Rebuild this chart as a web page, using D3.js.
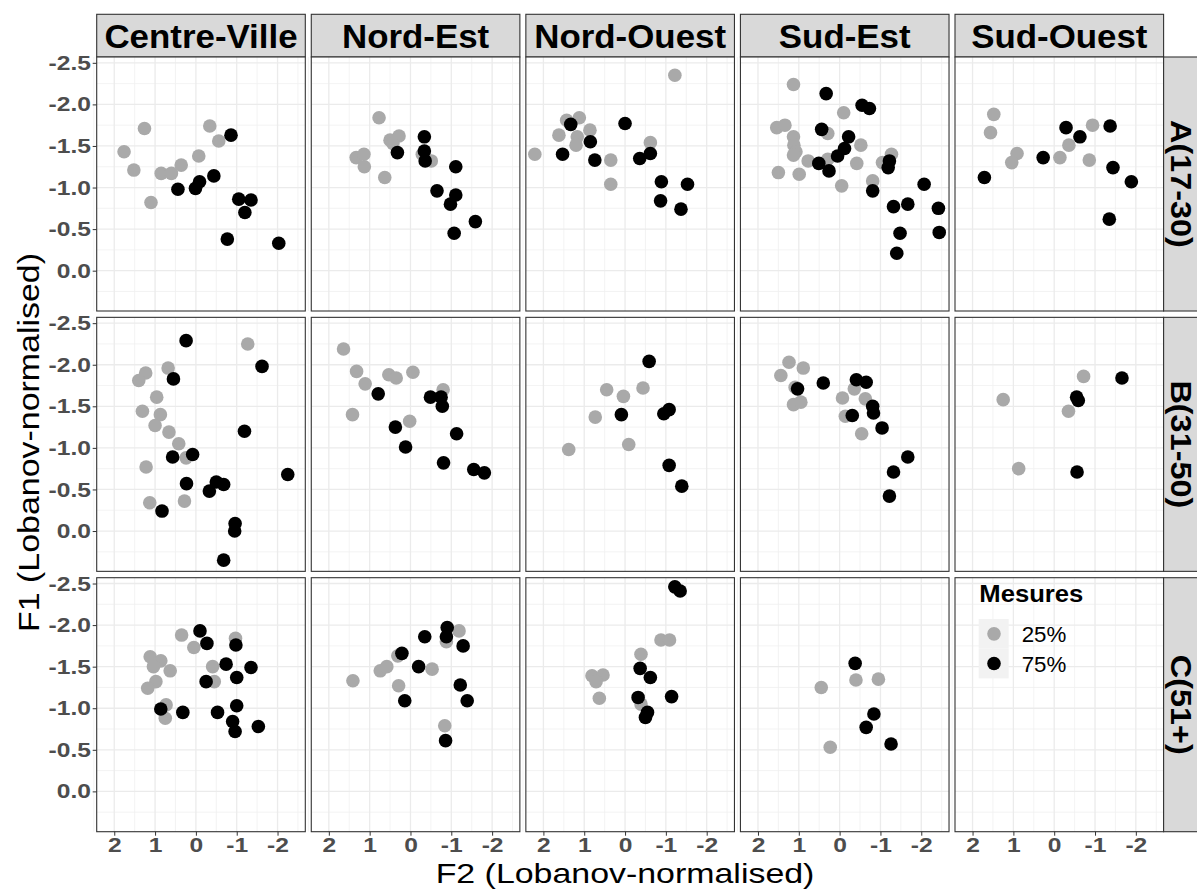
<!DOCTYPE html>
<html><head><meta charset="utf-8">
<script src="https://cdn.jsdelivr.net/npm/d3@7"></script>
<style>body{margin:0;background:#fff}svg{display:block;font-family:"Liberation Sans",Arial,sans-serif}</style>
</head><body><svg id="chart" width="1197" height="889"></svg>
<script>
const regions = ["Centre-Ville","Nord-Est","Nord-Ouest","Sud-Est","Sud-Ouest"];
const ageGroups = ["A(17-30)","B(31-50)","C(51+)"];
const ageKeys = ["A","B","C"];
const measures = ["25%","75%"];
const measureColors = ["#A9A9A9","#000000"];
const xTicks = [2,1,0,-1,-2];
const yTicks = [-2.5,-2.0,-1.5,-1.0,-0.5,0.0];
const xTitle = "F2 (Lobanov-normalised)";
const yTitle = "F1 (Lobanov-normalised)";
const legendTitle = "Mesures";

// [age, measure, F2, F1]
const centreVille = [
 ["A","25%",1.76,-1.43],["A","25%",1.26,-1.71],["A","25%",1.52,-1.21],["A","25%",1.10,-0.82],["A","25%",0.85,-1.17],
 ["A","25%",0.60,-1.17],["A","25%",0.36,-1.27],["A","25%",-0.07,-1.38],["A","25%",-0.34,-1.74],["A","25%",-0.56,-1.56],
 ["A","75%",-0.86,-1.63],["A","75%",0.44,-0.98],["A","75%",0.01,-0.99],["A","75%",-0.09,-1.07],["A","75%",-0.44,-1.14],
 ["A","75%",-1.05,-0.86],["A","75%",-1.35,-0.85],["A","75%",-1.20,-0.70],["A","75%",-0.77,-0.38],["A","75%",-2.03,-0.33],
 ["B","25%",-1.27,-2.25],["B","25%",0.68,-1.96],["B","25%",1.23,-1.90],["B","25%",1.40,-1.81],["B","25%",0.96,-1.61],
 ["B","25%",1.31,-1.44],["B","25%",0.87,-1.40],["B","25%",1.00,-1.27],["B","25%",0.66,-1.19],["B","25%",0.42,-1.05],
 ["B","25%",0.24,-0.88],["B","25%",1.22,-0.77],["B","25%",1.13,-0.34],["B","25%",0.28,-0.36],
 ["B","75%",0.24,-2.29],["B","75%",0.55,-1.83],["B","75%",-1.62,-1.98],["B","75%",-1.19,-1.20],["B","75%",0.57,-0.89],
 ["B","75%",0.08,-0.92],["B","75%",-2.25,-0.68],["B","75%",0.23,-0.57],["B","75%",-0.50,-0.59],["B","75%",-0.33,-0.48],
 ["B","75%",-0.68,-0.56],["B","75%",0.83,-0.24],["B","75%",-0.96,-0.09],["B","75%",-0.95,0.00],["B","75%",-0.68,0.35],
 ["C","25%",0.35,-1.88],["C","25%",0.05,-1.73],["C","25%",-0.97,-1.84],["C","25%",1.12,-1.62],["C","25%",0.86,-1.57],
 ["C","25%",1.04,-1.50],["C","25%",0.63,-1.45],["C","25%",0.98,-1.32],["C","25%",1.18,-1.24],["C","25%",-0.41,-1.50],
 ["C","25%",-0.45,-1.32],["C","25%",0.73,-1.04],["C","25%",0.75,-0.88],
 ["C","75%",-0.10,-1.93],["C","75%",-0.27,-1.78],["C","75%",-0.98,-1.76],["C","75%",-0.74,-1.53],["C","75%",-1.35,-1.49],
 ["C","75%",-1.00,-1.37],["C","75%",-0.25,-1.32],["C","75%",0.86,-0.99],["C","75%",0.32,-0.95],["C","75%",-0.53,-0.95],
 ["C","75%",-1.00,-1.03],["C","75%",-0.90,-0.84],["C","75%",-0.96,-0.72],["C","75%",-1.53,-0.78]
];
const nordEst = [
 ["A","25%",0.77,-1.84],["A","25%",1.33,-1.36],["A","25%",1.14,-1.40],["A","25%",1.13,-1.25],["A","25%",0.63,-1.12],
 ["A","25%",0.50,-1.57],["A","25%",0.28,-1.62],["A","25%",0.43,-1.53],["A","25%",-0.51,-1.32],["A","25%",-0.29,-1.40],
 ["A","75%",0.32,-1.42],["A","75%",-0.34,-1.61],["A","75%",-0.34,-1.44],["A","75%",-0.36,-1.32],["A","75%",-1.11,-1.25],
 ["A","75%",-0.65,-0.96],["A","75%",-1.11,-0.91],["A","75%",-0.98,-0.80],["A","75%",-1.59,-0.59],["A","75%",-1.07,-0.45],
 ["B","25%",1.64,-2.19],["B","25%",1.32,-1.92],["B","25%",1.11,-1.77],["B","25%",0.53,-1.88],["B","25%",0.35,-1.84],
 ["B","25%",-0.06,-1.91],["B","25%",1.42,-1.40],["B","25%",0.02,-1.32],["B","25%",-0.80,-1.70],
 ["B","75%",0.79,-1.65],["B","75%",-0.49,-1.61],["B","75%",-0.75,-1.61],["B","75%",-0.78,-1.50],["B","75%",0.37,-1.25],
 ["B","75%",0.12,-1.01],["B","75%",-1.13,-1.17],["B","75%",-0.81,-0.82],["B","75%",-1.55,-0.74],["B","75%",-1.81,-0.70],
 ["C","25%",1.41,-1.33],["C","25%",0.74,-1.45],["C","25%",0.58,-1.50],["C","25%",0.31,-1.63],["C","25%",0.29,-1.27],
 ["C","25%",-0.53,-1.47],["C","25%",-1.19,-1.93],["C","25%",-0.88,-1.80],["C","25%",-0.84,-0.79],
 ["C","75%",-0.35,-1.86],["C","75%",-0.90,-1.97],["C","75%",-0.88,-1.86],["C","75%",-1.29,-1.75],["C","75%",0.21,-1.66],
 ["C","75%",-0.20,-1.50],["C","75%",-1.22,-1.28],["C","75%",-1.39,-1.09],["C","75%",0.14,-1.09],["C","75%",-0.86,-0.61]
];
const nordOuest = [
 ["A","25%",-1.22,-2.35],["A","25%",2.21,-1.40],["A","25%",1.62,-1.63],["A","25%",1.43,-1.81],["A","25%",1.12,-1.84],
 ["A","25%",0.86,-1.69],["A","25%",1.17,-1.61],["A","25%",1.20,-1.51],["A","25%",0.35,-1.33],["A","25%",0.35,-1.04],
 ["A","25%",-0.62,-1.54],
 ["A","75%",1.33,-1.76],["A","75%",1.53,-1.40],["A","75%",0.85,-1.55],["A","75%",0.74,-1.33],["A","75%",0.00,-1.77],
 ["A","75%",-0.36,-1.35],["A","75%",-0.62,-1.41],["A","75%",-0.89,-1.07],["A","75%",-1.53,-1.04],["A","75%",-0.87,-0.84],
 ["A","75%",-1.37,-0.74],
 ["B","25%",0.45,-1.70],["B","25%",0.04,-1.62],["B","25%",-0.44,-1.72],["B","25%",0.73,-1.37],["B","25%",-0.09,-1.04],
 ["B","25%",1.38,-0.98],
 ["B","75%",-0.59,-2.04],["B","75%",0.09,-1.40],["B","75%",-0.95,-1.41],["B","75%",-1.08,-1.46],["B","75%",-1.08,-0.79],
 ["B","75%",-1.39,-0.54],
 ["C","25%",-0.88,-1.82],["C","25%",-1.09,-1.82],["C","25%",-0.39,-1.65],["C","25%",0.81,-1.39],["C","25%",0.54,-1.40],
 ["C","25%",0.71,-1.32],["C","25%",0.63,-1.12],["C","25%",-0.39,-1.05],
 ["C","75%",-1.22,-2.46],["C","75%",-1.35,-2.41],["C","75%",-0.37,-1.48],["C","75%",-0.62,-1.37],["C","75%",-0.32,-1.13],
 ["C","75%",-1.14,-1.14],["C","75%",-0.55,-0.95],["C","75%",-0.50,-0.89]
];
const sudEst = [
 ["A","25%",1.13,-2.24],["A","25%",1.54,-1.72],["A","25%",1.34,-1.75],["A","25%",1.13,-1.61],["A","25%",1.12,-1.51],
 ["A","25%",1.07,-1.43],["A","25%",1.13,-1.39],["A","25%",1.50,-1.18],["A","25%",0.99,-1.16],["A","25%",0.77,-1.32],
 ["A","25%",0.29,-1.65],["A","25%",-0.10,-1.90],["A","25%",0.29,-1.34],["A","25%",-0.05,-1.02],["A","25%",-0.42,-1.29],
 ["A","25%",-0.52,-1.51],["A","25%",-0.81,-1.08],["A","25%",-1.05,-1.30],["A","25%",-1.27,-1.40],
 ["A","75%",0.33,-2.13],["A","75%",0.44,-1.70],["A","75%",-0.55,-1.99],["A","75%",-0.73,-1.95],["A","75%",-0.22,-1.61],
 ["A","75%",-0.12,-1.47],["A","75%",0.05,-1.38],["A","75%",0.51,-1.29],["A","75%",0.26,-1.20],["A","75%",-1.22,-1.32],
 ["A","75%",-1.19,-1.24],["A","75%",-0.81,-0.96],["A","75%",-2.07,-1.04],["A","75%",-1.32,-0.77],["A","75%",-1.67,-0.80],
 ["A","75%",-2.42,-0.75],["A","75%",-2.44,-0.46],["A","75%",-1.48,-0.45],["A","75%",-1.40,-0.21],
 ["B","25%",1.24,-2.03],["B","25%",0.89,-1.96],["B","25%",1.44,-1.87],["B","25%",1.09,-1.73],["B","25%",1.13,-1.52],
 ["B","25%",0.95,-1.55],["B","25%",-0.07,-1.60],["B","25%",-0.36,-1.71],["B","25%",-0.63,-1.59],["B","25%",-0.14,-1.38],
 ["B","25%",-0.54,-1.17],
 ["B","75%",1.03,-1.71],["B","75%",0.40,-1.78],["B","75%",-0.41,-1.82],["B","75%",-0.65,-1.79],["B","75%",-0.81,-1.50],
 ["B","75%",-0.83,-1.42],["B","75%",-0.31,-1.39],["B","75%",-1.04,-1.24],["B","75%",-1.67,-0.89],["B","75%",-1.32,-0.71],
 ["B","75%",-1.22,-0.42],
 ["C","25%",0.45,-1.25],["C","25%",-0.40,-1.34],["C","25%",-0.95,-1.35],["C","25%",0.23,-0.53],
 ["C","75%",-0.38,-1.54],["C","75%",-0.84,-0.93],["C","75%",-0.65,-0.77],["C","75%",-1.26,-0.57]
];
const sudOuest = [
 ["A","25%",1.48,-1.88],["A","25%",1.56,-1.66],["A","25%",0.91,-1.41],["A","25%",1.04,-1.30],["A","25%",-0.14,-1.36],
 ["A","25%",-0.36,-1.51],["A","25%",-0.94,-1.75],["A","25%",-0.86,-1.33],
 ["A","75%",1.71,-1.12],["A","75%",0.27,-1.36],["A","75%",-0.29,-1.72],["A","75%",-0.63,-1.61],["A","75%",-1.37,-1.74],
 ["A","75%",-1.44,-1.24],["A","75%",-1.89,-1.07],["A","75%",-1.35,-0.62],
 ["B","25%",-0.72,-1.86],["B","25%",1.25,-1.58],["B","25%",-0.35,-1.44],["B","25%",0.87,-0.75],
 ["B","75%",-1.66,-1.84],["B","75%",-0.55,-1.61],["B","75%",-0.59,-1.57],["B","75%",-0.56,-0.71]
];
const regionData = [centreVille, nordEst, nordOuest, sudEst, sudOuest];

// layout
const L0 = 96.7, colStep = 214.575, pw = 208.6;
const T0 = 57, rowStep = 260.35, ph = 254;
const stripH = 42.7;
const axisGrey = "#4D4D4D", borderGrey = "#333333";
const FONT = '"Liberation Sans",Arial,sans-serif';

const svg = d3.select("#chart");
const x = d3.scaleLinear().domain([2.43, -2.68]).range([0, pw]);
const y = d3.scaleLinear().domain([-2.57, 0.485]).range([0, ph]);
const color = d3.scaleOrdinal().domain(measures).range(measureColors);

const xMinor = [2.5,1.5,0.5,-0.5,-1.5,-2.5];
const yMinor = [-2.25,-1.75,-1.25,-0.75,-0.25,0.25];
const tickScale = 1.2;

regions.forEach((reg, c) => {
  const left = L0 + c*colStep;
  // top strip
  const st = svg.append("g").attr("transform", `translate(${left},${T0-stripH})`);
  st.append("rect").attr("width", pw).attr("height", stripH).attr("fill", "#D9D9D9")
    .attr("stroke", borderGrey).attr("stroke-width", 1.1);
  st.append("text").attr("transform", `translate(${pw/2},${stripH - 9}) scale(1.07,1)`)
    .attr("text-anchor", "middle").attr("font-size", 32.6).attr("font-weight", "bold").attr("fill", "#000").text(reg);

  ageKeys.forEach((ak, r) => {
    const top = T0 + r*rowStep;
    const g = svg.append("g").attr("transform", `translate(${left},${top})`);
    g.append("rect").attr("width", pw).attr("height", ph).attr("fill", "#fff");
    // minor grid
    g.selectAll(".xmin").data(xMinor).join("line").attr("x1", d=>x(d)).attr("x2", d=>x(d))
      .attr("y1", 0).attr("y2", ph).attr("stroke", "#F0F0F0").attr("stroke-width", 0.8);
    g.selectAll(".ymin").data(yMinor).join("line").attr("y1", d=>y(d)).attr("y2", d=>y(d))
      .attr("x1", 0).attr("x2", pw).attr("stroke", "#F0F0F0").attr("stroke-width", 0.8);
    // major grid
    g.selectAll(".xmaj").data(xTicks).join("line").attr("x1", d=>x(d)).attr("x2", d=>x(d))
      .attr("y1", 0).attr("y2", ph).attr("stroke", "#EBEBEB").attr("stroke-width", 1.3);
    g.selectAll(".ymaj").data(yTicks).join("line").attr("y1", d=>y(d)).attr("y2", d=>y(d))
      .attr("x1", 0).attr("x2", pw).attr("stroke", "#EBEBEB").attr("stroke-width", 1.3);

    const pts = regionData[c].filter(d => d[0] === ak);
    const ordered = measures.flatMap(m => pts.filter(d => d[1] === m));
    g.selectAll("circle.pt").data(ordered).join("circle").attr("class", "pt")
      .attr("cx", d => x(d[2])).attr("cy", d => y(d[3])).attr("r", 6.8)
      .attr("fill", d => color(d[1]));

    g.append("rect").attr("width", pw).attr("height", ph).attr("fill", "none")
      .attr("stroke", borderGrey).attr("stroke-width", 1.1);

    if (c === 0) {
      const ax = g.append("g").call(d3.axisLeft(y).tickValues(yTicks).tickSize(4).tickPadding(2));
      ax.select(".domain").remove();
      ax.selectAll("line").attr("stroke", borderGrey);
      ax.selectAll("text").attr("font-size", 20.5).attr("font-weight", "bold").attr("fill", axisGrey)
        .attr("font-family", FONT).attr("x", -5.8/tickScale).attr("transform", `scale(${tickScale},1)`)
        .text(d => d3.format(".1f")(d).replace("\u2212","-"));
    }
    if (r === 2) {
      const ax = g.append("g").attr("transform", `translate(0,${ph})`)
        .call(d3.axisBottom(x).tickValues(xTicks).tickFormat(d => String(d)).tickSize(4).tickPadding(1.5));
      ax.select(".domain").remove();
      ax.selectAll("line").attr("stroke", borderGrey);
      ax.selectAll("text").attr("font-size", 20.5).attr("font-weight", "bold").attr("fill", axisGrey)
        .attr("font-family", FONT).attr("transform", `scale(${tickScale},1)`);
    }
  });
});

// right strips
const rightX = L0 + 4*colStep + pw;
ageGroups.forEach((lab, r) => {
  const top = T0 + r*rowStep;
  const g = svg.append("g").attr("transform", `translate(${rightX},${top})`);
  g.append("rect").attr("width", stripH).attr("height", ph).attr("fill", "#D9D9D9")
    .attr("stroke", borderGrey).attr("stroke-width", 1.1);
  g.append("text").attr("transform", `translate(7.4,${ph/2}) rotate(90) scale(1.08,1)`)
    .attr("text-anchor", "middle").attr("font-size", 30).attr("font-weight", "bold").attr("fill", "#000").text(lab);
});

// axis titles
svg.append("text").attr("transform", `translate(625,883) scale(1.19,1)`).attr("text-anchor", "middle")
  .attr("font-size", 28.5).attr("fill", "#000").text(xTitle);
svg.append("text").attr("transform", `translate(39.3,442.5) rotate(-90) scale(1.12,1)`)
  .attr("text-anchor", "middle").attr("font-size", 30.3).attr("fill", "#000").text(yTitle);

// legend
const lg = svg.append("g").attr("transform", "translate(979.3,601.7)");
lg.append("text").attr("transform", "scale(1.1,1)").attr("font-size", 23.3).attr("font-weight", "bold").attr("fill", "#000").text(legendTitle);
measures.forEach((m, i) => {
  const ky = 17.3 + i*29.7;
  lg.append("rect").attr("x", -0.6).attr("y", ky).attr("width", 30).attr("height", 29.7).attr("fill", "#F2F2F2");
  lg.append("circle").attr("cx", 14.7).attr("cy", ky + 14.85).attr("r", 6.8).attr("fill", color(m));
  lg.append("text").attr("x", 42.4).attr("y", ky + 14.85 + 8.2).attr("font-size", 22.3).attr("fill", "#000").text(m);
});
</script></body></html>
